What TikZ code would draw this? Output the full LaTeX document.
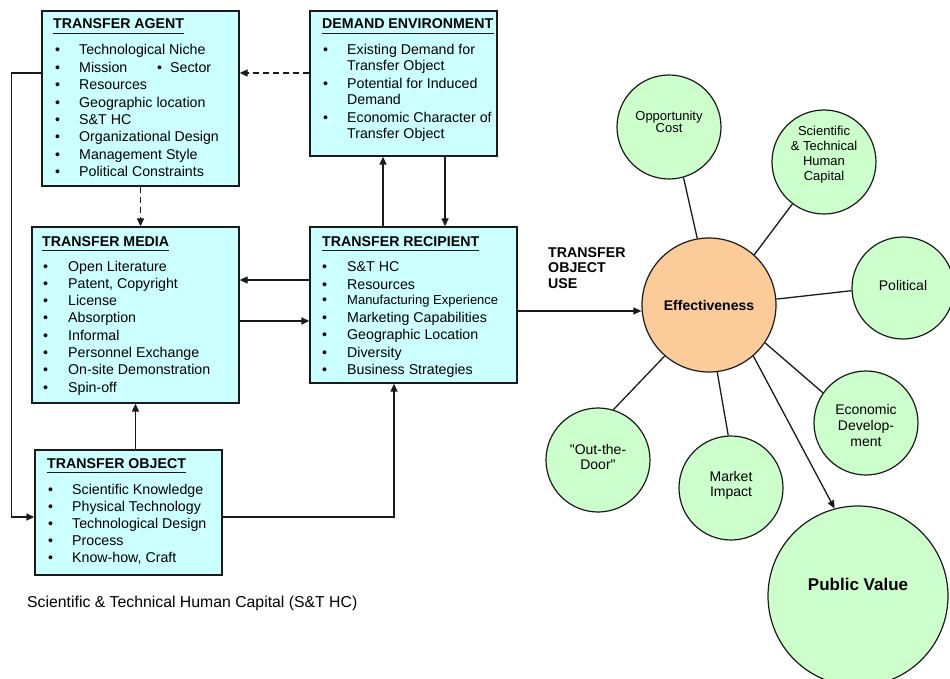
\documentclass[tikz,border=0pt]{standalone}
\usepackage{fontspec}
\setmainfont{Liberation Sans}
\usetikzlibrary{arrows.meta}
\definecolor{boxfill}{HTML}{CCFFFF}
\definecolor{dotfill}{HTML}{CCFFCC}
\definecolor{efffill}{HTML}{FBCB9A}
\definecolor{ink}{HTML}{1A1A1A}

\tikzset{
  panel/.style={rectangle, draw=ink, line width=1.3pt, fill=boxfill, inner sep=0pt},
  head/.style={font=\bfseries\fontsize{14.2}{17}\selectfont, anchor=base west, inner sep=0pt},
  entry/.style={font=\fontsize{14.2}{17}\selectfont, anchor=base west, inner sep=0pt},
  ball/.style={circle, draw=ink, line width=1.2pt, fill=dotfill, inner sep=0pt},
  balltext/.style={align=center, inner sep=0pt},
  link/.style={draw=ink, line width=1.3pt},
  arr/.style={link, -{Triangle[length=8pt,width=7pt]}},
  dashlink/.style={arr, dash pattern=on 6pt off 4pt},
  rule/.style={draw=ink, line width=1.1pt},
}
\newcommand{\bul}[1]{\makebox[#1][l]{\textbullet}}

\begin{document}
\begin{tikzpicture}[x=1pt,y=-1pt]
\useasboundingbox (0,0) rectangle (950,679);

% ---------- panels ----------
\node[panel, minimum width=197pt, minimum height=175pt] (agent) at (140.5,98.5) {};
\node[panel, minimum width=187pt, minimum height=145pt] (dem)   at (403.5,83.5) {};
\node[panel, minimum width=207pt, minimum height=176pt] (media) at (135.5,315) {};
\node[panel, minimum width=207pt, minimum height=156pt] (rec)   at (413.5,305) {};
\node[panel, minimum width=187pt, minimum height=125pt] (obj)   at (128.5,512.5) {};

% ---------- headings ----------
\node[head] (hA) at (53,29)  {TRANSFER AGENT};
\node[head] (hD) at (322,29) {DEMAND ENVIRONMENT};
\node[head] (hM) at (42,246) {TRANSFER MEDIA};
\node[head] (hR) at (322,246) {TRANSFER RECIPIENT};
\node[head] (hO) at (47,468) {TRANSFER OBJECT};
\foreach \h in {hA,hD,hM,hR,hO}
  \draw[rule] ([yshift=-4.5pt]\h.base west) -- ([yshift=-4.5pt]\h.base east);

% ---------- transfer agent ----------
\foreach \t [count=\i from 0] in {Technological Niche,
    {\makebox[78pt][l]{Mission}\makebox[13pt][l]{\textbullet}Sector},
    Resources, Geographic location, S\&T HC, Organizational Design,
    Management Style, Political Constraints}
  \node[entry] (agent-\i) at (55,{55+17.4*\i}) {\bul{24pt}\t};

% ---------- demand environment ----------
\node[entry] (dem-1) at (323,55)  {\bul{24pt}Existing Demand for};
\node[entry] (dem-2) at (347,71)  {Transfer Object};
\node[entry] (dem-3) at (323,89)  {\bul{24pt}Potential for Induced};
\node[entry] (dem-4) at (347,105) {Demand};
\node[entry] (dem-5) at (323,123) {\bul{24pt}Economic Character of};
\node[entry] (dem-6) at (347,139) {Transfer Object};

% ---------- transfer media ----------
\foreach \t [count=\i from 0] in {Open Literature, {Patent, Copyright}, License,
    Absorption, Informal, Personnel Exchange, On-site Demonstration, Spin-off}
  \node[entry] (media-\i) at (43,{271+17.3*\i}) {\bul{25pt}\t};

% ---------- transfer recipient ----------
\node[entry] (rec-1) at (322,271) {\bul{25pt}S\&T HC};
\node[entry] (rec-2) at (322,289) {\bul{25pt}Resources};
\node[entry, font=\fontsize{13}{16}\selectfont] (rec-3) at (322,304) {\makebox[25pt][l]{\fontsize{14.2}{17}\selectfont\textbullet}Manufacturing Experience};
\node[entry] (rec-4) at (322,322) {\bul{25pt}Marketing Capabilities};
\node[entry] (rec-5) at (322,339) {\bul{25pt}Geographic Location};
\node[entry] (rec-6) at (322,357) {\bul{25pt}Diversity};
\node[entry] (rec-7) at (322,374) {\bul{25pt}Business Strategies};

% ---------- transfer object ----------
\foreach \t [count=\i from 0] in {Scientific Knowledge, Physical Technology,
    Technological Design, Process, {Know-how, Craft}}
  \node[entry] (obj-\i) at (48,{494+17*\i}) {\bul{24pt}\t};

% ---------- footnote and flow label ----------
\node[entry, font=\fontsize{15.8}{18}\selectfont] (foot) at (27,607)
  {Scientific \& Technical Human Capital (S\&T HC)};
\node[anchor=north west, inner sep=0pt, align=left,
      font=\bfseries\fontsize{14.2}{15.8}\selectfont] (use) at (548,247)
  {TRANSFER\\OBJECT\\USE};

% ---------- connector routing points ----------
\coordinate (yTop)  at (0,73);
\coordinate (yRM)   at (0,280);
\coordinate (yMR)   at (0,321);
\coordinate (yUse)  at (0,311);
\coordinate (xUp)   at (383,0);
\coordinate (xDown) at (445,0);
\coordinate (loopT) at (11.5,73);
\coordinate (loopB) at (11.5,517);
\coordinate (objR)  at (394,517);

% ---------- flow connectors ----------
\draw[dashlink] (dem.west |- yTop) -- (agent.east |- yTop);
\draw[dashlink] (agent.south) -- (agent.south |- media.north);
\draw[arr] (rec.west |- yRM) -- (media.east |- yRM);
\draw[arr] (media.east |- yMR) -- (rec.west |- yMR);
\draw[arr] (rec.north -| xUp) -- (dem.south -| xUp);
\draw[arr] (dem.south -| xDown) -- (rec.north -| xDown);
\draw[arr] (obj.north -| media.south) -- (media.south);
\draw[arr] (obj.east |- objR) -- (objR) -- (rec.south -| objR);
\draw[arr] (agent.west |- loopT) -- (loopT) -- (loopB) -- (obj.west |- loopB);

% ---------- effectiveness cluster ----------
\node[ball, fill=efffill, minimum size=134pt] (eff) at (709,305) {};
\node[ball, minimum size=104pt] (opp) at (669,127) {};
\node[ball, minimum size=104pt] (sci) at (824,162) {};
\node[ball, minimum size=102pt] (pol) at (903,288) {};
\node[ball, minimum size=104pt] (eco) at (866,423) {};
\node[ball, minimum size=104pt] (out) at (598,460) {};
\node[ball, minimum size=104pt] (mkt) at (731,488) {};
\node[ball, minimum size=180pt] (pv)  at (858,596) {};

\node[balltext, font=\bfseries\fontsize{14}{17}\selectfont] (effT) at (709,305) {Effectiveness};
\node[balltext, font=\fontsize{13}{12.5}\selectfont] (oppT) at (669,122) {Opportunity\\Cost};
\node[balltext, font=\fontsize{13}{15}\selectfont] (sciT) at (824,155) {Scientific\\\& Technical\\Human\\Capital};
\node[balltext, font=\fontsize{14}{17}\selectfont] (polT) at (903,285) {Political};
\node[balltext, font=\fontsize{14}{16}\selectfont] (ecoT) at (866,425) {Economic\\Develop-\\ment};
\node[balltext, font=\fontsize{14}{15}\selectfont] (outT) at (598,457) {\textquotedbl Out-the-\\Door\textquotedbl};
\node[balltext, font=\fontsize{14}{15}\selectfont] (mktT) at (731,485) {Market\\Impact};
\node[balltext, font=\bfseries\fontsize{17}{20}\selectfont] (pvT) at (858,584) {Public Value};

\draw[arr] (rec.east |- yUse) -- (eff.west |- yUse);
\draw[link] (opp.-74) -- (eff.100);
\draw[link] (sci.233) -- (eff.48);
\draw[link] (pol.183) -- (eff.5);
\draw[link] (eco.145) -- (eff.-34);
\draw[link] (out.73) -- (eff.229.5);
\draw[link] (mkt.93) -- (eff.-83);
\draw[arr] (eff.-49) -- (pv.105.5);
\end{tikzpicture}
\end{document}
